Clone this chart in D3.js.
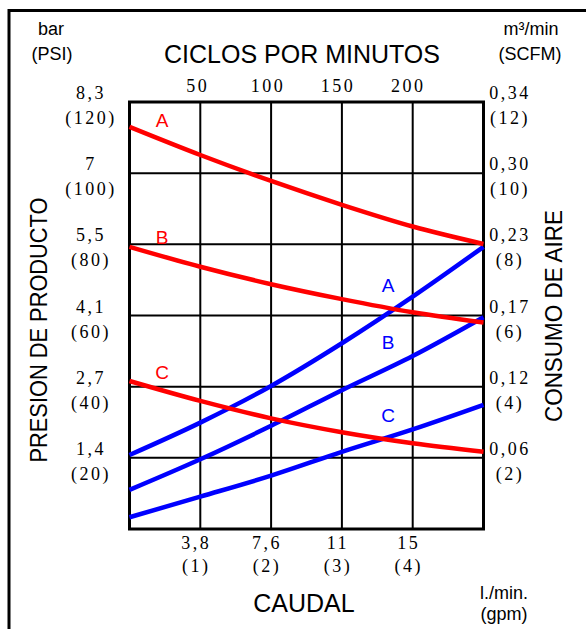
<!DOCTYPE html>
<html>
<head>
<meta charset="utf-8">
<script src="https://cdn.jsdelivr.net/npm/d3@7"></script>
<style>
  body { margin: 0; background: #fff; }
  .sans { font-family: "Liberation Sans", Arial, sans-serif; }
  .serif { font-family: "Liberation Serif", "Times New Roman", serif; letter-spacing: 2.5px; }
</style>
</head>
<body>
<svg id="svg" width="586" height="629"></svg>
<script>
// flow in gpm (x), pressure in PSI (red), air in SCFM (blue)
var flow = [0, 1, 2, 3, 4, 5];
var pressA = [113.0, 105.1, 97.8, 91.1, 85.0, 80.1];
var pressB = [79.3, 73.7, 68.8, 64.6, 60.9, 58.0];
var pressC = [41.6, 36.0, 31.1, 27.2, 24.1, 21.7];
var airA = [2.08, 2.99, 4.02, 5.22, 6.53, 7.93];
var airB = [1.10, 1.96, 2.90, 3.90, 4.86, 5.95];
var airC = [0.33, 0.91, 1.50, 2.17, 2.80, 3.49];

var gpmTicks = [1, 2, 3, 4];
var lpmLabels = ["3,8", "7,6", "11", "15"];
var psiTicks = [20, 40, 60, 80, 100, 120];
var barLabels = ["1,4", "2,7", "4,1", "5,5", "7", "8,3"];
var scfmTicks = [2, 4, 6, 8, 10, 12];
var m3Labels = ["0,06", "0,12", "0,17", "0,23", "0,30", "0,34"];
var cycleTicks = [50, 100, 150, 200];

var svg = d3.select("#svg");
var x0 = 129.5, x1 = 483.5, y0 = 529, y1 = 102;

var x = d3.scaleLinear().domain([0, 5]).range([x0, x1]);
var yP = d3.scaleLinear().domain([0, 120]).range([y0, y1]);
var yA = d3.scaleLinear().domain([0, 12]).range([y0, y1]);
var xc = d3.scaleLinear().domain([0, 250]).range([x0 - 2, x1 - 5]);

// outer frame
svg.append("path").attr("d", "M9,629V10.5H586")
  .attr("fill", "none").attr("stroke", "#000").attr("stroke-width", 3);

// grid
var g = svg.append("g").attr("stroke", "#000").attr("stroke-width", 2);
g.selectAll(".v").data(gpmTicks).enter().append("line")
  .attr("x1", function(d) { return x(d); }).attr("x2", function(d) { return x(d); })
  .attr("y1", y1).attr("y2", y0);
g.selectAll(".h").data(psiTicks.slice(0, 5)).enter().append("line")
  .attr("y1", function(d) { return yP(d); }).attr("y2", function(d) { return yP(d); })
  .attr("x1", x0).attr("x2", x1);
svg.append("rect").attr("x", x0).attr("y", y1).attr("width", x1 - x0).attr("height", y0 - y1)
  .attr("fill", "none").attr("stroke", "#000").attr("stroke-width", 3);

// curves
var lineP = d3.line().curve(d3.curveMonotoneX)
  .x(function(d, i) { return x(flow[i]); }).y(function(d) { return yP(d); });
var lineA = d3.line().curve(d3.curveMonotoneX)
  .x(function(d, i) { return x(flow[i]); }).y(function(d) { return yA(d); });

[airA, airB, airC].forEach(function(s) {
  svg.append("path").attr("d", lineA(s)).attr("fill", "none")
    .attr("stroke", "#0000ff").attr("stroke-width", 4.5);
});
[pressA, pressB, pressC].forEach(function(s) {
  svg.append("path").attr("d", lineP(s)).attr("fill", "none")
    .attr("stroke", "#ff0000").attr("stroke-width", 4.5);
});

// curve letters
var redLabels = [["A", 127], ["B", 244], ["C", 379]];
redLabels.forEach(function(d) {
  svg.append("text").attr("class", "sans").attr("x", 162).attr("y", d[1])
    .attr("text-anchor", "middle").attr("font-size", 19).attr("fill", "#ff0000").text(d[0]);
});
var blueLabels = [["A", 292], ["B", 349], ["C", 422]];
blueLabels.forEach(function(d) {
  svg.append("text").attr("class", "sans").attr("x", 388).attr("y", d[1])
    .attr("text-anchor", "middle").attr("font-size", 19).attr("fill", "#0000ff").text(d[0]);
});

// left ticks
var left = svg.selectAll(".lt").data(psiTicks).enter();
left.append("text").attr("class", "serif").attr("x", 91)
  .attr("y", function(d) { return yP(d) - 3; })
  .attr("text-anchor", "middle").attr("font-size", 18)
  .text(function(d, i) { return barLabels[i]; });
left.append("text").attr("class", "serif").attr("x", 91)
  .attr("y", function(d) { return yP(d) + 22; })
  .attr("text-anchor", "middle").attr("font-size", 18)
  .text(function(d) { return "(" + d + ")"; });

// right ticks
var right = svg.selectAll(".rt").data(scfmTicks).enter();
right.append("text").attr("class", "serif").attr("x", 510)
  .attr("y", function(d) { return yA(d) - 3; })
  .attr("text-anchor", "middle").attr("font-size", 18)
  .text(function(d, i) { return m3Labels[i]; });
right.append("text").attr("class", "serif").attr("x", 510)
  .attr("y", function(d) { return yA(d) + 22; })
  .attr("text-anchor", "middle").attr("font-size", 18)
  .text(function(d) { return "(" + d + ")"; });

// bottom ticks
var bottom = svg.selectAll(".bt").data(gpmTicks).enter();
bottom.append("text").attr("class", "serif").attr("x", function(d) { return x(d) - 4; })
  .attr("y", 549).attr("text-anchor", "middle").attr("font-size", 18)
  .text(function(d, i) { return lpmLabels[i]; });
bottom.append("text").attr("class", "serif").attr("x", function(d) { return x(d) - 4; })
  .attr("y", 572).attr("text-anchor", "middle").attr("font-size", 18)
  .text(function(d) { return "(" + d + ")"; });

// top ticks
svg.selectAll(".tt").data(cycleTicks).enter().append("text").attr("class", "serif")
  .attr("x", function(d) { return xc(d); }).attr("y", 92)
  .attr("text-anchor", "middle").attr("font-size", 18)
  .text(function(d) { return d; });

// titles
function label(txt, px, py, size) {
  svg.append("text").attr("class", "sans").attr("x", px).attr("y", py)
    .attr("text-anchor", "middle").attr("font-size", size).text(txt);
}
label("CICLOS POR MINUTOS", 302, 63, 25);
label("CAUDAL", 304, 612, 25);
label("bar", 51, 35, 18);
label("(PSI)", 52, 60, 18);
label("m³/min", 531, 35, 18);
label("(SCFM)", 530, 60, 18);
label("l./min.", 504, 599, 18);
label("(gpm)", 504, 620, 18);

svg.append("text").attr("class", "sans")
  .attr("transform", "translate(47,330) rotate(-90)")
  .attr("text-anchor", "middle").attr("font-size", 24)
  .attr("textLength", 265).attr("lengthAdjust", "spacingAndGlyphs")
  .text("PRESION DE PRODUCTO");
svg.append("text").attr("class", "sans")
  .attr("transform", "translate(562,316) rotate(-90)")
  .attr("text-anchor", "middle").attr("font-size", 24)
  .attr("textLength", 212).attr("lengthAdjust", "spacingAndGlyphs")
  .text("CONSUMO DE AIRE");
</script>
</body>
</html>
